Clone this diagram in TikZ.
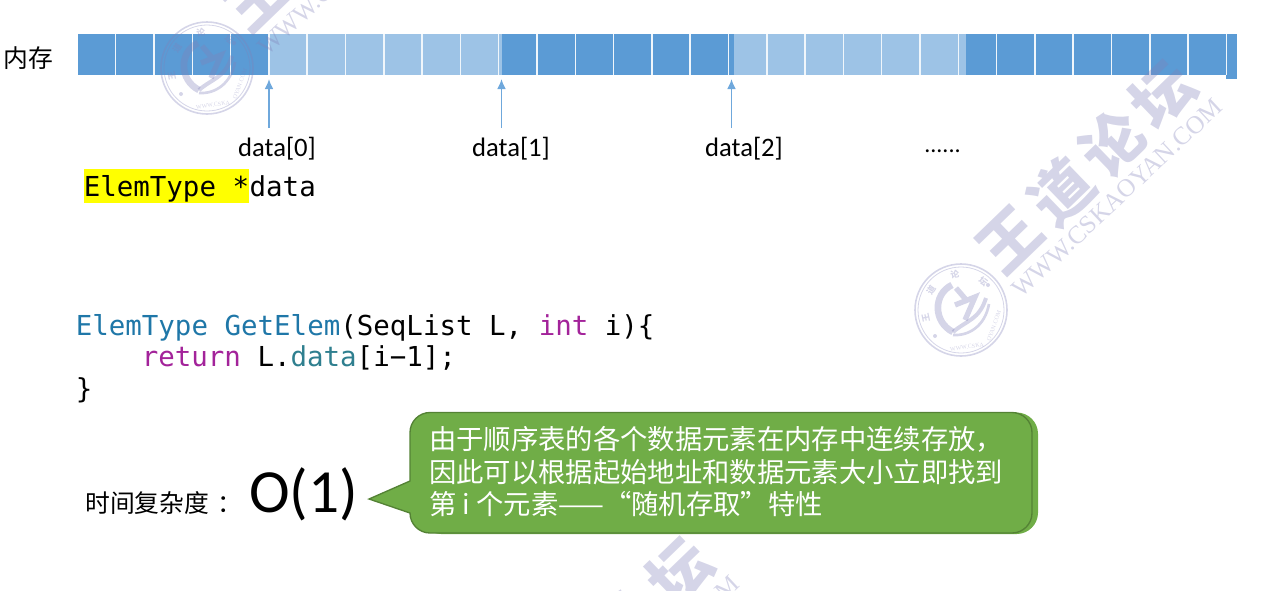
\documentclass[tikz,border=0pt]{standalone}
\usepackage{fontspec}
\usetikzlibrary{arrows.meta}
\setmainfont{Carlito}
\setmonofont{DejaVu Sans Mono}
\newfontfamily\cjk{Noto Sans CJK SC}
\newfontfamily\wmfont{Liberation Serif}
\definecolor{cellDark}{HTML}{5B9BD5}
\definecolor{cellLight}{HTML}{9DC3E6}
\definecolor{arrowBlue}{HTML}{6FA8DC}
\definecolor{bubbleFill}{HTML}{70AD47}
\definecolor{bubbleLine}{HTML}{548235}
\definecolor{codeType}{HTML}{1F77A8}
\definecolor{codeKey}{HTML}{A3239A}
\definecolor{codeField}{HTML}{2F7F8F}
\definecolor{wmColor}{HTML}{8080B8}
\definecolor{hlYellow}{HTML}{FFFF00}

\begin{document}
\begin{tikzpicture}[x=.75pt, y=-.75pt,
	arr/.style={-{Latex[length=7.5pt, width=6.5pt]}, arrowBlue, line width=1.1pt},
	txt/.style={inner sep=0pt, anchor=base west},
	code/.style={txt, font=\ttfamily\fontsize{20.6}{24}\selectfont},
	cjktxt/.style={inner sep=0pt, font=\cjk\fontsize{18.6}{22}\selectfont},
	bubbletxt/.style={txt, white, font=\cjk\fontsize{20.5}{24}\selectfont},
	lbl/.style={inner sep=0pt, anchor=base, font=\fontsize{20}{22}\selectfont},
	wmring/.style={wmColor, opacity=.33},
	wmark/.pic={
		\draw[wmring, line width=1.2pt] (0,0) circle (46);
		\draw[wmring, line width=.6pt] (0,0) circle (43);
		\draw[wmring, line width=5pt] (-9,-25) .. controls (-28,-16) and (-28,12) .. (-8,22);
		\draw[wmring, line width=4pt] (-5,-22) -- (7,-8) (-6,-5) -- (14,-13) -- (4,10);
		\draw[wmring, line width=3pt] (-8,22) .. controls (6,10) and (18,10) .. (25,-12);
		\draw[wmring, line width=2pt] (-8,25) .. controls (8,26) and (24,16) .. (28,-6);
		\fill[wmring] (27,-25) circle (2) (-26,26) circle (2);
		\foreach \a/\c in {192/王,146/道,100/论,52/坛}
			\node[wmring, inner sep=0pt, rotate=\a-90, font=\cjk\bfseries\fontsize{6.5}{7}\selectfont] at (-\a:36) {\c};
		\node[wmring, inner sep=0pt, rotate=8, font=\wmfont\fontsize{4.5}{5}\selectfont] at (6,37) {WWW.CSKA};
		\node[wmring, inner sep=0pt, rotate=70, font=\wmfont\fontsize{4.5}{5}\selectfont] at (33,16) {OYAN.COM};
		\foreach \a/\c in {0/王,1/道,2/论,3/坛}
			\node[wmring, inner sep=0pt, rotate=44, font=\cjk\bfseries\fontsize{46}{46}\selectfont] at (49+51*\a,-70-48.5*\a) {\c};
		\node[wmring, inner sep=0pt, rotate=43, font=\wmfont\fontsize{19}{20}\selectfont] at (156,-112) {WWW.CSKAOYAN.COM};
	}]
	\path[use as bounding box] (0,0) rectangle (1288,590);
	\clip (0,0) rectangle (1288,590);

	% memory strip
	\fill[cellDark] (78,34) rectangle (269.5,75);
	\fill[cellLight] (269.5,34) rectangle (501.5,75);
	\fill[cellDark] (501.5,34) rectangle (734,75);
	\fill[cellLight] (734,34) rectangle (966,75);
	\fill[cellDark] (966,34) rectangle (1226,75);
	\fill[cellDark] (1226,34) rectangle (1237,79);
	\foreach \x in {1,...,30} {
		\draw[white!85!cellLight, line width=1.1pt] (77.4+38.3*\x,33.5) -- (77.4+38.3*\x,75);
	}
	\node[cjktxt, anchor=west] (mem) at (3,58) {内存};

	\coordinate (tip0) at (269,79);
	\coordinate (tip1) at (501.5,79);
	\coordinate (tip2) at (731.5,79);
	\coordinate (tail0) at (269,128);
	\coordinate (tail1) at (501.5,128);
	\coordinate (tail2) at (731.5,128);
	\draw[arr] (tail0) -- (tip0);
	\draw[arr] (tail1) -- (tip1);
	\draw[arr] (tail2) -- (tip2);
	\node[lbl] (d0) at (277,156) {data[0]};
	\node[lbl] (d1) at (511,156) {data[1]};
	\node[lbl] (d2) at (744,156) {data[2]};
	\node[lbl, font=\fontsize{18}{22}\selectfont] (dots) at (942.5,152) {......};

	\node[code, fill=hlYellow, text height=20.25pt, text depth=5.25pt] (elem) at (83.5,196) {ElemType~*};
	\node[code] (ptr) at (elem.base east) {data};

	\node[code] (sig) at (75.5,335) {\textcolor{codeType}{ElemType~GetElem}(SeqList~L,~\textcolor{codeKey}{int}~i)\{};
	\node[code] (ret) at (141.5,366) {\textcolor{codeKey}{return}~L.\textcolor{codeField}{data}[i−1];};
	\node[code] (end) at (75.5,398) {\}};

	\node[cjktxt, anchor=west] (time) at (85,503) {时间复杂度\hspace{6pt}：};
	\node[inner sep=0pt, anchor=west, font=\fontsize{46}{50}\selectfont] (big) at (249,494) {O(1)};

	% callout
	\fill[bubbleFill, rounded corners=16] (420,412.5) rectangle (1038,534);
	\draw[bubbleLine, fill=bubbleFill, line width=1pt] (410,481) -- (410,432.5)
		.. controls (410,421.5) and (419,412.5) .. (430,412.5)
		-- (1012,412.5) .. controls (1023,412.5) and (1032,421.5) .. (1032,432.5)
		-- (1032,513) .. controls (1032,524) and (1023,533) .. (1012,533)
		-- (430,533) .. controls (419,533) and (410,524) .. (410,513)
		-- (369,499) -- cycle;
	\node[bubbletxt] (line0) at (429,449) {由于顺序表的各个数据元素在内存中连续存放，};
	\node[bubbletxt] (line1) at (429,482) {因此可以根据起始地址和数据元素大小立即找到};
	\node[bubbletxt] (line2) at (429,514.5) {第 i 个元素——“随机存取”特性};

	% watermarks
	\pic at (961,310) {wmark};
	\pic at (207,68) {wmark};
	\pic at (478,787) {wmark};
\end{tikzpicture}
\end{document}
